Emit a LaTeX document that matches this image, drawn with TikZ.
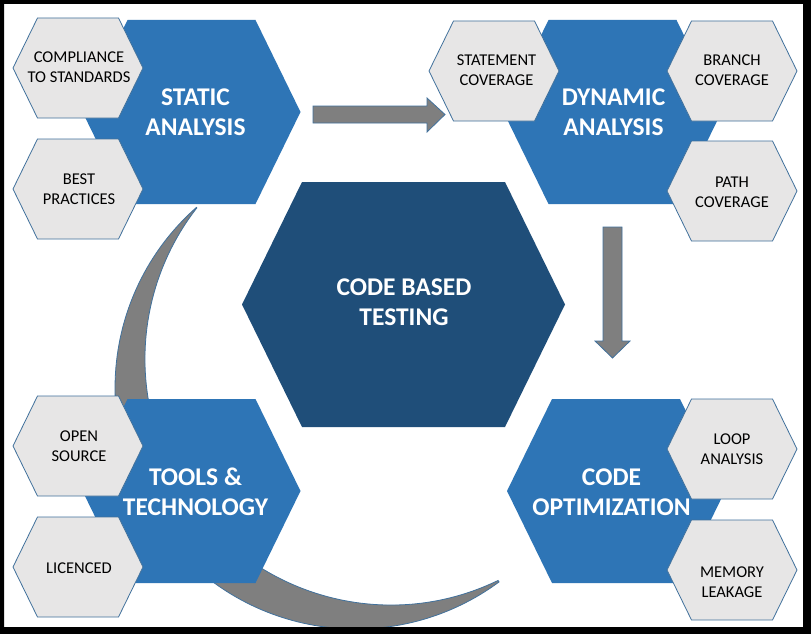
\documentclass[tikz,border=0pt]{standalone}
\usepackage{fontspec}
\setmainfont{Carlito}
\usepackage{xcolor}
\usepackage{tikz}
\definecolor{hexblue}{HTML}{2E75B6}
\definecolor{hexdark}{HTML}{1F4E79}
\definecolor{hexgrey}{HTML}{E7E6E6}
\definecolor{edgeblue}{HTML}{41719C}
\definecolor{arrowgrey}{HTML}{7F7F7F}

% style, centre x, centre y, half width, half top edge, half height
\newcommand{\hexpath}[6]{%
  \path[#1] ({#2-#4},#3) -- ({#2-#5},{#3-#6}) -- ({#2+#5},{#3-#6}) -- ({#2+#4},#3)
    -- ({#2+#5},{#3+#6}) -- ({#2-#5},{#3+#6}) -- cycle;}

\begin{document}
\begin{tikzpicture}[x=1pt,y=-1pt,
  bluehex/.style={fill=hexblue},
  greyhex/.style={fill=hexgrey,draw=edgeblue,line width=0.8pt},
  blockarrow/.style={fill=arrowgrey,draw=edgeblue,line width=0.8pt},
  maintext/.style={text=white,font=\bfseries\fontsize{25.5}{30}\selectfont,align=center},
  subtext/.style={font=\fontsize{16.5}{20}\selectfont,align=center}]
  \useasboundingbox (0,0) rectangle (811,634);
  \fill[white] (0,0) rectangle (811,634);

  \path[blockarrow] (356,388) ++(228.55:241) arc[start angle=228.55,end angle=53.6,radius=241]
    -- ++(-1,-1.5) arc[start angle=64.2,end angle=217.9,radius=246] -- cycle;
  \path[blockarrow] (313,106) -- (427,106) -- (427,98) -- (445,114.5) -- (427,132) -- (427,123) -- (313,123) -- cycle;
  \path[blockarrow] (603,227) -- (622,227) -- (622,341) -- (630,341) -- (612.5,358) -- (595,341) -- (603,341) -- cycle;

  \hexpath{fill=hexdark}{403.5}{304.5}{161.5}{101.5}{122.5}
  \hexpath{bluehex}{191.5}{112}{109}{64}{92}
  \hexpath{bluehex}{612.5}{112}{109}{64}{92}
  \hexpath{bluehex}{191.5}{491}{109}{64}{92}
  \hexpath{bluehex}{616}{491}{109}{64}{92}

  \hexpath{greyhex}{78}{68}{65}{40.5}{50}
  \hexpath{greyhex}{78}{189}{65}{40.5}{50}
  \hexpath{greyhex}{494}{71}{65}{40.5}{50}
  \hexpath{greyhex}{732}{71}{65}{40.5}{50}
  \hexpath{greyhex}{732}{191}{65}{40.5}{50}
  \hexpath{greyhex}{78}{446}{65}{40.5}{50}
  \hexpath{greyhex}{78}{567}{65}{40.5}{50}
  \hexpath{greyhex}{732}{449}{65}{40.5}{50}
  \hexpath{greyhex}{732}{570}{65}{40.5}{50}

  \node[maintext] (core) at (404,302) {CODE BASED\\TESTING};
  \node[maintext] (static) at (195.5,112) {STATIC\\ANALYSIS};
  \node[maintext] (dynamic) at (613.5,112) {DYNAMIC\\ANALYSIS};
  \node[maintext] (tools) at (195.5,492) {TOOLS \&\\TECHNOLOGY};
  \node[maintext] (optim) at (611.5,492) {CODE\\OPTIMIZATION};

  \node[subtext] (compliance) at (79,67) {COMPLIANCE\\TO STANDARDS};
  \node[subtext] (practices) at (79,189) {BEST\\PRACTICES};
  \node[subtext] (statement) at (496.5,70.5) {STATEMENT\\COVERAGE};
  \node[subtext] (branch) at (732,70.5) {BRANCH\\COVERAGE};
  \node[subtext] (pathcov) at (732,192) {PATH\\COVERAGE};
  \node[subtext] (opensrc) at (79,446) {OPEN\\SOURCE};
  \node[subtext] (licenced) at (79,568) {LICENCED};
  \node[subtext] (loop) at (732,449.5) {LOOP\\ANALYSIS};
  \node[subtext] (memory) at (732,582) {MEMORY\\LEAKAGE};

  \fill[black,even odd rule] (0,0) rectangle (811,634) (4,4) rectangle (803,627);
\end{tikzpicture}
\end{document}
